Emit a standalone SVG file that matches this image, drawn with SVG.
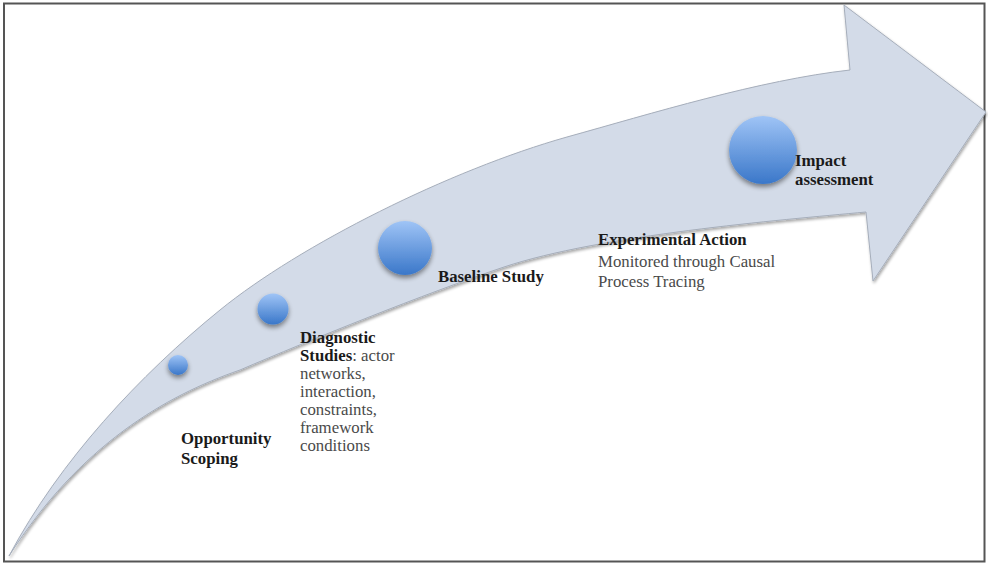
<svg xmlns="http://www.w3.org/2000/svg" width="988" height="565" viewBox="0 0 988 565">
<style>
.b{font-family:"Liberation Serif","Times New Roman",serif;font-weight:bold;font-size:16.8px;fill:#1a1a1a}
.r{font-family:"Liberation Serif","Times New Roman",serif;font-size:16.8px;fill:#4a4a4a}
.dot{fill:url(#g);filter:url(#sh)}
</style>
<defs>
<linearGradient id="g" x1="0" y1="0" x2="0" y2="1">
<stop offset="0" stop-color="#9fc4f6"/>
<stop offset="1" stop-color="#3a77c9"/>
</linearGradient>
<filter id="sh" x="-40%" y="-40%" width="180%" height="190%">
<feGaussianBlur in="SourceAlpha" stdDeviation="2.5"/>
<feOffset dx="0" dy="3" result="o"/>
<feComponentTransfer><feFuncA type="linear" slope="0.45"/></feComponentTransfer>
<feMerge><feMergeNode/><feMergeNode in="SourceGraphic"/></feMerge>
</filter>
<filter id="ash" x="-5%" y="-5%" width="110%" height="115%">
<feGaussianBlur in="SourceAlpha" stdDeviation="1.5"/>
<feOffset dx="1" dy="2"/>
<feComponentTransfer><feFuncA type="linear" slope="0.35"/></feComponentTransfer>
<feMerge><feMergeNode/><feMergeNode in="SourceGraphic"/></feMerge>
</filter>
</defs>
<rect x="0" y="0" width="988" height="565" fill="#ffffff"/>
<rect x="4" y="3.5" width="980.5" height="558" fill="none" stroke="#555555" stroke-width="2"/>
<g id="arrow">
<path d="M 9,556 C 60,460 140,375 220,310 C 300,245 450,170 567,137 C 650,114 760,80 850,70 L 844,5 L 986,112 L 873,281 L 866,212 C 780,220 600,235 504,267 C 424,294 310,340 240,370 C 165,396 80,445 9,556 Z" fill="#d3dbe8" stroke="#a6aebb" stroke-width="1" filter="url(#ash)"/>
</g>
<g id="opportunity-scoping">
<circle class="dot" cx="178" cy="365" r="10"/>
<text class="b" x="181" y="444">Opportunity</text>
<text class="b" x="181" y="464">Scoping</text>
</g>
<g id="diagnostic-studies">
<circle class="dot" cx="273" cy="309" r="15.5"/>
<text class="b" x="300" y="343">Diagnostic</text>
<text x="300" y="361"><tspan class="b">Studies</tspan><tspan class="r">: actor</tspan></text>
<text class="r" x="300" y="379">networks,</text>
<text class="r" x="300" y="397">interaction,</text>
<text class="r" x="300" y="415">constraints,</text>
<text class="r" x="300" y="433">framework</text>
<text class="r" x="300" y="451">conditions</text>
</g>
<g id="baseline-study">
<circle class="dot" cx="405" cy="248" r="27"/>
<text class="b" x="438" y="282">Baseline Study</text>
</g>
<g id="experimental-action">
<text class="b" x="598" y="245">Experimental Action</text>
<text class="r" x="598" y="267">Monitored through Causal</text>
<text class="r" x="598" y="287">Process Tracing</text>
</g>
<g id="impact-assessment">
<circle class="dot" cx="763" cy="150" r="34"/>
<text class="b" x="795" y="166">Impact</text>
<text class="b" x="795" y="185">assessment</text>
</g>
<g id="connectors"></g>
</svg>
